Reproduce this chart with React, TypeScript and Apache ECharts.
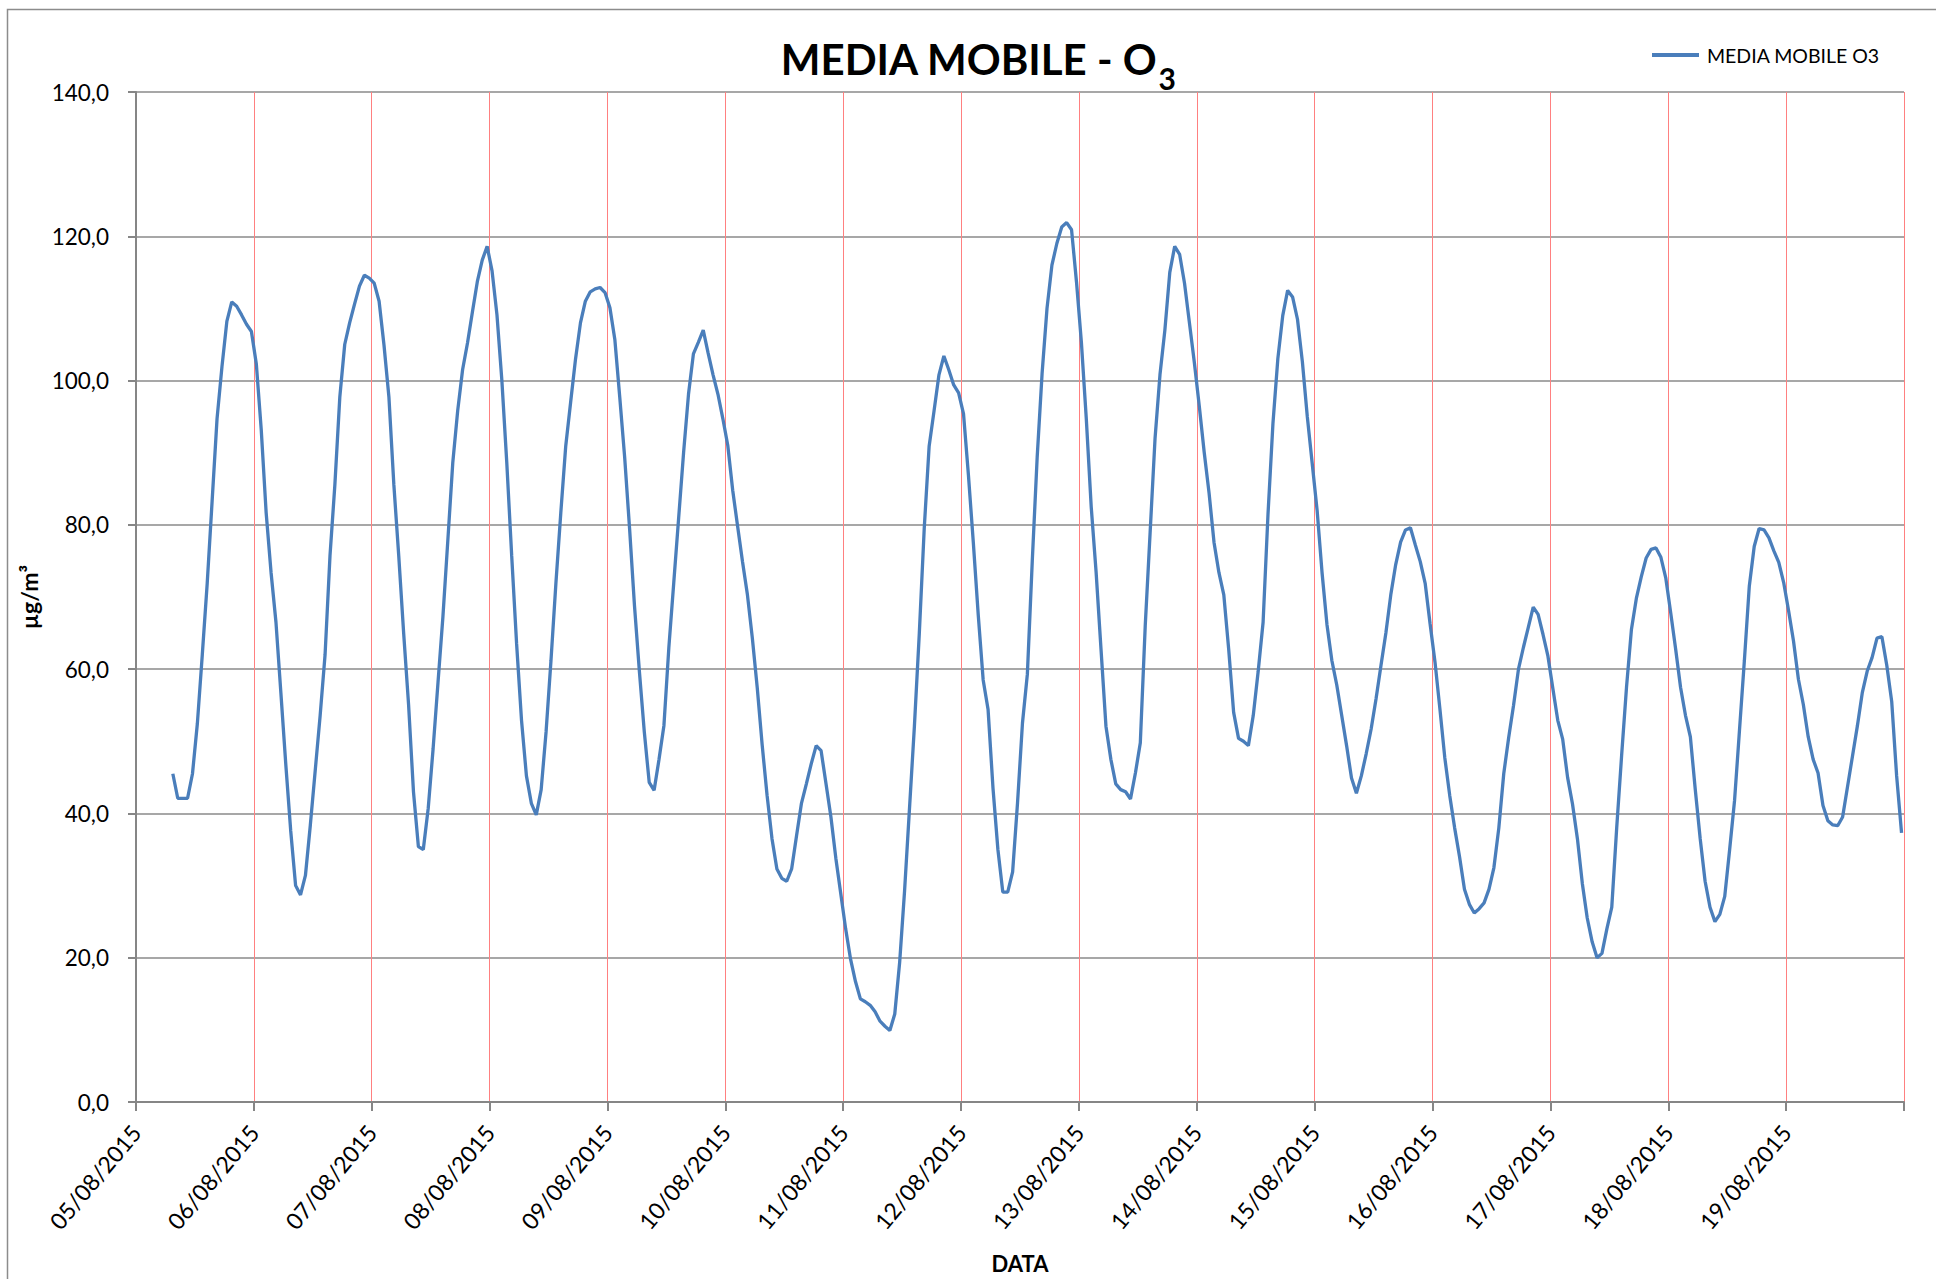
import React, { useEffect, useRef } from "react";
import * as echarts from "echarts";

// Tick labels: one per day (midnight); the final tick (20/08) carries no label
const DAY_LABELS = [
  "05/08/2015", "06/08/2015", "07/08/2015", "08/08/2015", "09/08/2015",
  "10/08/2015", "11/08/2015", "12/08/2015", "13/08/2015", "14/08/2015",
  "15/08/2015", "16/08/2015", "17/08/2015", "18/08/2015", "19/08/2015",
];

const Y_TICKS = [0, 20, 40, 60, 80, 100, 120, 140];

// Hourly moving average of O3 (µg/m³); values sit at hh:30 of each hour
const FIRST_HOUR_0508 = 7;
const O3_0508 = [45.5, 42.1, 42.1, 42.1, 45.5, 52.5, 62.0, 71.9, 83.3, 94.7, 101.9, 108.2, 110.9, 110.3, 109.1, 107.8, 106.8];
const O3_0608 = [102.3, 93.2, 81.7, 73.4, 66.5, 56.7, 46.8, 37.6, 30.0, 28.7, 31.4, 38.4, 46.0, 53.6, 62.0, 75.7, 85.6, 97.7, 105.0, 108.0, 110.6, 113.1, 114.6, 114.2];
const O3_0708 = [113.5, 111.0, 104.9, 97.7, 85.6, 75.7, 65.0, 55.1, 43.0, 35.4, 35.0, 40.7, 49.0, 58.2, 67.3, 77.9, 88.6, 95.8, 101.5, 105.2, 109.5, 113.7, 116.7, 118.6];
const O3_0808 = [115.2, 109.1, 100.0, 88.6, 75.7, 63.5, 52.9, 45.2, 41.4, 39.8, 43.3, 51.3, 61.2, 71.9, 81.7, 90.9, 97.0, 103.0, 108.0, 111.0, 112.3, 112.7, 112.9, 112.2];
const O3_0908 = [110.1, 105.7, 97.7, 89.4, 79.5, 68.8, 59.7, 51.3, 44.3, 43.2, 47.5, 52.2, 63.0, 72.0, 81.0, 90.0, 98.1, 103.7, 105.3, 107.0, 103.8, 100.8, 98.1, 94.7];
const O3_1008 = [91.0, 84.8, 79.8, 74.9, 70.3, 64.3, 57.4, 49.5, 42.5, 36.5, 32.3, 31.0, 30.6, 32.3, 36.9, 41.4, 44.1, 46.9, 49.4, 48.7, 44.1, 39.5, 33.8, 28.9];
const O3_1108 = [24.0, 19.8, 16.7, 14.3, 13.9, 13.4, 12.5, 11.2, 10.5, 9.9, 12.2, 19.4, 29.3, 40.7, 52.1, 65.0, 79.5, 90.9, 95.8, 100.8, 103.4, 101.5, 99.4, 98.3];
const O3_1208 = [95.4, 86.9, 77.5, 67.5, 58.5, 54.4, 43.5, 35.0, 29.1, 29.1, 31.9, 41.5, 52.5, 59.3, 75.0, 89.4, 101.0, 110.0, 116.0, 119.0, 121.3, 121.9, 120.9, 113.7];
const O3_1308 = [105.3, 94.7, 82.5, 73.4, 62.7, 52.1, 47.5, 44.1, 43.3, 43.0, 42.0, 45.6, 49.8, 66.0, 79.0, 92.0, 100.8, 107.0, 115.0, 118.6, 117.5, 113.5, 108.0, 102.5];
const O3_1408 = [96.5, 90.1, 84.4, 77.6, 73.4, 70.3, 62.7, 54.0, 50.4, 50.0, 49.4, 53.6, 59.7, 66.5, 81.5, 94.0, 103.0, 109.0, 112.5, 111.6, 108.5, 102.6, 95.0, 88.5];
const O3_1508 = [82.0, 73.4, 66.2, 61.2, 57.8, 53.6, 49.4, 44.9, 42.8, 45.2, 48.3, 51.7, 55.9, 60.5, 65.0, 70.3, 74.5, 77.6, 79.3, 79.6, 77.2, 74.9, 71.9, 66.3];
const O3_1608 = [61.0, 54.5, 47.7, 42.5, 38.0, 34.0, 29.5, 27.4, 26.2, 26.8, 27.6, 29.5, 32.5, 38.0, 45.5, 50.5, 55.0, 60.0, 63.0, 65.8, 68.6, 67.6, 64.8, 61.8];
const O3_1708 = [57.3, 52.9, 50.3, 45.0, 41.3, 36.5, 30.3, 25.5, 22.2, 20.0, 20.6, 24.0, 27.0, 38.0, 48.0, 57.5, 65.5, 69.8, 72.8, 75.4, 76.6, 76.8, 75.5, 72.6];
const O3_1808 = [67.8, 62.8, 57.5, 53.6, 50.6, 43.3, 36.5, 30.6, 27.0, 25.0, 26.0, 28.5, 35.0, 41.8, 51.5, 61.2, 71.5, 77.0, 79.5, 79.3, 78.2, 76.4, 74.8, 72.0];
const O3_1908 = [68.1, 63.9, 58.6, 55.1, 50.6, 47.5, 45.6, 41.1, 39.0, 38.4, 38.3, 39.5, 43.7, 47.9, 52.1, 56.7, 59.7, 61.6, 64.3, 64.5, 60.5, 55.5, 45.2, 37.3];

const SERIES_NAME = "MEDIA MOBILE O3";

const DAYS = [
  O3_0508, O3_0608, O3_0708, O3_0808, O3_0908, O3_1008, O3_1108, O3_1208,
  O3_1308, O3_1408, O3_1508, O3_1608, O3_1708, O3_1808, O3_1908,
];

function buildPoints(): [number, number][] {
  const pts: [number, number][] = [];
  DAYS.forEach((vals, d) => {
    const start = d === 0 ? FIRST_HOUR_0508 : 0;
    vals.forEach((v, i) => {
      pts.push([d * 24 + start + i + 0.5, v]);
    });
  });
  return pts;
}

const FONT = "Lato, 'Open Sans', sans-serif";

export default function App() {
  const ref = useRef<HTMLDivElement>(null);

  useEffect(() => {
    if (!ref.current) return;
    const chart = echarts.init(ref.current, undefined, { renderer: "svg" });
    const totalHours = DAY_LABELS.length * 24;
    chart.setOption({
      animation: false,
      backgroundColor: "#ffffff",
      textStyle: { fontFamily: FONT },
      graphic: [
        {
          type: "rect",
          shape: { x: 7.5, y: 9.5, width: 2000, height: 2000 },
          style: { fill: "none", stroke: "#8c8c8c", lineWidth: 1.5 },
          silent: true,
        },
        {
          type: "text",
          x: 978,
          y: 38,
          style: {
            text: "{a|MEDIA MOBILE - O}{b|3}",
            align: "center",
            verticalAlign: "top",
            rich: {
              a: {
                fontSize: 42,
                fontWeight: "bold",
                fontFamily: FONT,
                color: "#000",
                lineHeight: 50,
                verticalAlign: "top",
              },
              b: {
                fontSize: 30,
                fontWeight: "bold",
                fontFamily: FONT,
                color: "#000",
                lineHeight: 50,
                verticalAlign: "top",
                padding: [25, 0, 0, 1],
              },
            },
          },
        },
      ],
      legend: {
        data: [SERIES_NAME],
        left: 1647,
        top: 40,
        icon: "rect",
        itemWidth: 47,
        itemHeight: 4,
        textStyle: {
          fontFamily: FONT,
          fontSize: 19.5,
          color: "#000",
          padding: [0, 0, 0, 3],
        },
      },
      grid: { left: 136, top: 92, width: 1768, height: 1010, containLabel: false },
      xAxis: {
        type: "value",
        min: 0,
        max: totalHours,
        interval: 24,
        name: "DATA",
        nameLocation: "middle",
        nameGap: 150,
        nameTextStyle: { fontFamily: FONT, fontSize: 22, fontWeight: "bold", color: "#000" },
        axisLine: { show: true, lineStyle: { color: "#868686", width: 2 } },
        axisTick: { show: true, length: 9, lineStyle: { color: "#868686", width: 2 } },
        axisLabel: {
          rotate: 50,
          margin: 26,
          fontFamily: FONT,
          fontSize: 23,
          color: "#000",
          showMaxLabel: true,
          formatter: (v: number) => {
            const idx = Math.round(v / 24);
            return DAY_LABELS[idx] ?? "";
          },
        },
        splitLine: { show: true, lineStyle: { color: "#ff8080", width: 1 } },
      },
      yAxis: {
        type: "value",
        min: Y_TICKS[0],
        max: Y_TICKS[Y_TICKS.length - 1],
        interval: 20,
        name: "µg/m³",
        nameLocation: "middle",
        nameRotate: 90,
        nameGap: 86,
        nameTextStyle: { fontFamily: FONT, fontSize: 23, fontWeight: "bold", color: "#000" },
        axisLine: { show: true, lineStyle: { color: "#868686", width: 2 } },
        axisTick: { show: true, length: 8, inside: false, lineStyle: { color: "#868686", width: 2 } },
        axisLabel: {
          margin: 27,
          fontFamily: FONT,
          fontSize: 22.5,
          color: "#000",
          formatter: (v: number) => v.toFixed(1).replace(".", ","),
        },
        splitLine: { show: true, lineStyle: { color: "#8a8a8a", width: 1.5 } },
      },
      series: [
        {
          name: SERIES_NAME,
          type: "line",
          data: buildPoints(),
          showSymbol: false,
          symbol: "none",
          itemStyle: { color: "#4a7ebb" },
          lineStyle: { color: "#4a7ebb", width: 3.3 },
          z: 5,
        },
      ],
    });
    return () => chart.dispose();
  }, []);

  return (
    <div
      ref={ref}
      style={{
        position: "fixed",
        left: 0,
        top: 0,
        width: 1936,
        height: 1279,
        background: "#fff",
      }}
    />
  );
}
